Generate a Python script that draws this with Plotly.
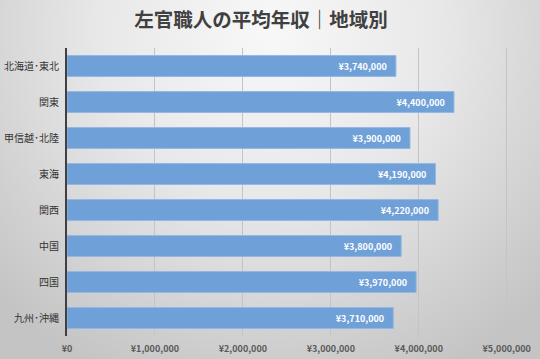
import base64
import plotly.graph_objects as go

regions = ["北海道･東北", "関東", "甲信越･北陸", "東海", "関西", "中国", "四国", "九州･沖縄"]
incomes = [3740000, 4400000, 3900000, 4190000, 4220000, 3800000, 3970000, 3710000]
tick_values = [0, 1000000, 2000000, 3000000, 4000000, 5000000]
tick_labels = ["¥0", "¥1,000,000", "¥2,000,000", "¥3,000,000", "¥4,000,000", "¥5,000,000"]
title_text = "左官職人の平均年収｜地域別"

bar_labels = ["¥{:,}\u00a0\u00a0\u00a0".format(v) for v in incomes]

W, H = 540, 359
ML, MR, MT, MB = 67, 28, 48, 23
PW, PH = W - ML - MR, H - MT - MB

svg = """<svg xmlns='http://www.w3.org/2000/svg' width='540' height='359' preserveAspectRatio='none'>
<defs><radialGradient id='g' gradientUnits='userSpaceOnUse' cx='270' cy='30' r='380'>
<stop offset='0%' stop-color='#f8f8f8'/>
<stop offset='45%' stop-color='#e8e8e8'/>
<stop offset='100%' stop-color='#c4c4c4'/>
</radialGradient></defs>
<rect width='540' height='359' fill='url(#g)'/></svg>"""
bg_src = "data:image/svg+xml;base64," + base64.b64encode(svg.encode()).decode()

font = "Noto Sans CJK JP, Noto Sans, sans-serif"

fig = go.Figure(
    go.Bar(
        x=incomes,
        y=regions,
        orientation="h",
        text=bar_labels,
        textposition="inside",
        insidetextanchor="end",
        textangle=0,
        textfont=dict(family=font, size=9, color="white", weight="bold"),
        marker=dict(color="rgb(111,160,216)", line=dict(color="rgb(146,184,228)", width=1)),
        hoverinfo="skip",
    )
)

fig.update_layout(
    width=W,
    height=H,
    margin=dict(l=ML, r=MR, t=MT, b=MB, autoexpand=False),
    paper_bgcolor="#dcdcdc",
    plot_bgcolor="rgba(0,0,0,0)",
    bargap=0.42,
    showlegend=False,
    uniformtext=dict(minsize=9, mode="show"),
    title=dict(
        text=title_text,
        x=261 / W,
        xanchor="center",
        xref="container",
        y=1 - 20 / H,
        yanchor="middle",
        yref="container",
        font=dict(family=font, size=19.5, color="#404040", weight="bold"),
        automargin=False,
    ),
    images=[dict(source=bg_src, xref="paper", yref="paper", x=-ML / PW, y=1 + MT / PH,
                 sizex=W / PW, sizey=H / PH, sizing="stretch", layer="below",
                 xanchor="left", yanchor="top")],
    xaxis=dict(
        range=[0, 5060000],
        tickvals=tick_values,
        ticktext=tick_labels,
        showgrid=True,
        gridcolor="#c4c4c4",
        gridwidth=1,
        zeroline=False,
        showline=False,
        ticks="",
        tickfont=dict(family=font, size=9, color="#595959", weight="bold"),
        ticklabelstandoff=6,
        automargin=False,
        fixedrange=True,
    ),
    yaxis=dict(
        autorange="reversed",
        showline=True,
        linecolor="#404040",
        linewidth=2,
        ticks="",
        showgrid=False,
        tickfont=dict(family=font, size=10, color="#333333"),
        ticklabelstandoff=4,
        automargin=False,
        fixedrange=True,
    ),
)

fig.write_html(
    "out.html",
    config={"displayModeBar": False},
    post_script="document.body.style.margin='0';document.body.style.overflow='hidden';",
)
